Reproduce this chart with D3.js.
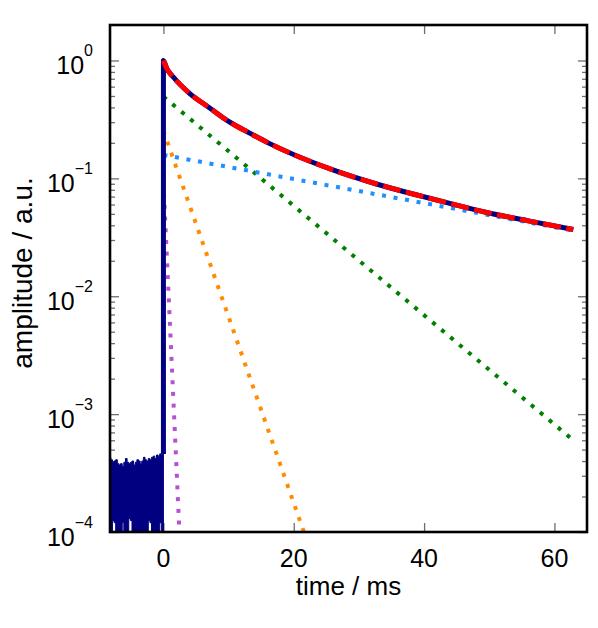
<!DOCTYPE html>
<html>
<head>
<meta charset="utf-8">
<script src="https://cdn.jsdelivr.net/npm/d3@7"></script>
<style>
  body { margin: 0; background: #fff; }
  text { font-family: "Liberation Sans", Arial, Helvetica, sans-serif; fill: #000; }
</style>
</head>
<body>
<div class="chart"></div>
<script>
// measured trace, before the excitation (noise band)
const noiseT  = [-8.2,-7.95,-7.7,-7.45,-7.2,-6.95,-6.7,-6.45,-6.2,-5.95,-5.7,-5.45,-5.2,-4.95,-4.7,-4.45,-4.2,-3.95,-3.7,-3.45,-3.2,-2.95,-2.7,-2.45,-2.2,-1.95,-1.7,-1.45,-1.2,-0.95,-0.7,-0.45,-0.2,0]
const noiseHi = [4.3e-4,4.1e-4,3.9e-4,4.0e-4,4.1e-4,3.8e-4,3.7e-4,3.8e-4,3.6e-4,3.9e-4,4.2e-4,3.9e-4,3.8e-4,3.9e-4,4.0e-4,3.7e-4,3.9e-4,4.1e-4,4.0e-4,3.8e-4,4.0e-4,4.3e-4,4.1e-4,4.0e-4,4.2e-4,4.1e-4,4.3e-4,4.4e-4,4.2e-4,4.5e-4,4.4e-4,4.6e-4,4.5e-4,4.6e-4]
const noiseLo = [5e-5,5e-5,1.25e-4,1.2e-4,5e-5,5e-5,5e-5,5e-5,1.2e-4,5e-5,5e-5,5e-5,1.3e-4,1.25e-4,5e-5,5e-5,5e-5,5e-5,5e-5,5e-5,5e-5,5e-5,5e-5,5e-5,1.25e-4,1.2e-4,5e-5,5e-5,5e-5,5e-5,5e-5,1.2e-4,5e-5,5e-5]

// decay after t = 0 (data and fit coincide)
const decayT = [0, 0.5, 1.0, 1.5, 2.5, 4, 7, 10, 13, 16, 22, 26, 32.7, 38.9, 43.5, 49.6, 56, 62.9]
const decayV = [1.0, 0.859, 0.780, 0.725, 0.630, 0.527, 0.399, 0.304, 0.246, 0.201, 0.143, 0.118, 0.0896, 0.0722, 0.0622, 0.0513, 0.0436, 0.0368]

// fit components (start / end points of each straight line on the log axis)
const compNames  = ['fast', 'short', 'medium', 'long']
const compColors = ['#b452d2', '#ff8c00', '#008000', '#1e90ff']
const compT0 = [0, 0, 0, 0]
const compV0 = [0.094, 0.254, 0.494, 0.158]
const compT1 = [2.6, 22, 62.9, 62.9]
const compV1 = [6.6e-5, 8.5e-5, 6.0e-4, 0.036]

const xTicks = [0, 20, 40, 60]
const yTicks = [1e-4, 1e-3, 1e-2, 1e-1, 1]
const yExps  = ['\u22124', '\u22123', '\u22122', '\u22121', '0']

const W = 598, H = 628
const mL = 110, mR = 587, mT = 25, mB = 532

const x = d3.scaleLinear().domain([-8.2, 65]).range([mL, mR])
const y = d3.scaleLog().domain([1e-4, 2]).range([mB, mT])

const svg = d3.select('.chart').append('svg')
  .attr('width', W)
  .attr('height', H)

svg.append('defs').append('clipPath').attr('id', 'plot')
  .append('rect')
    .attr('x', mL).attr('y', mT)
    .attr('width', mR - mL).attr('height', mB - mT)

// minor log ticks
const minor = []
for (let e = -4; e < 0; e++) {
  for (let m = 2; m <= 9; m++) minor.push(m * Math.pow(10, e))
}

function styleAxis (g) {
  g.select('.domain').remove()
  g.selectAll('.tick line').attr('stroke', '#6e6e6e').attr('stroke-width', 1.3)
  g.selectAll('.tick text').remove()
}

svg.append('g').attr('transform', `translate(${mL},0)`)
  .call(d3.axisLeft(y).tickValues(yTicks).tickSizeInner(-9).tickSizeOuter(0)).call(styleAxis)
svg.append('g').attr('transform', `translate(${mL},0)`)
  .call(d3.axisLeft(y).tickValues(minor).tickSizeInner(-5).tickSizeOuter(0)).call(styleAxis)
svg.append('g').attr('transform', `translate(${mR},0)`)
  .call(d3.axisRight(y).tickValues(yTicks).tickSizeInner(-9).tickSizeOuter(0)).call(styleAxis)
svg.append('g').attr('transform', `translate(${mR},0)`)
  .call(d3.axisRight(y).tickValues(minor).tickSizeInner(-5).tickSizeOuter(0)).call(styleAxis)
svg.append('g').attr('transform', `translate(0,${mB})`)
  .call(d3.axisBottom(x).tickValues(xTicks).tickSizeInner(-9).tickSizeOuter(0)).call(styleAxis)
svg.append('g').attr('transform', `translate(0,${mT})`)
  .call(d3.axisTop(x).tickValues(xTicks).tickSizeInner(-9).tickSizeOuter(0)).call(styleAxis)

const plot = svg.append('g').attr('clip-path', 'url(#plot)')

// components, dotted
compNames.forEach((name, i) => {
  plot.append('path')
    .datum([[compT0[i], compV0[i]], [compT1[i], compV1[i]]])
    .attr('fill', 'none')
    .attr('stroke', compColors[i])
    .attr('stroke-width', 4)
    .attr('stroke-dasharray', '4 7.7')
    .attr('d', d3.line().x(d => x(d[0])).y(d => y(d[1])))
})

// measured data: noise band + decay
const band = noiseT.map((t, i) => ({ t, hi: noiseHi[i], lo: noiseLo[i] }))
plot.append('path')
  .datum(band)
  .attr('fill', '#000080')
  .attr('stroke', '#000080')
  .attr('stroke-width', 1)
  .attr('d', d3.area().curve(d3.curveStep)
    .x(d => x(d.t)).y0(d => y(d.lo)).y1(d => y(d.hi)))

const decay = decayT.map((t, i) => [t, decayV[i]])
const dataLine = [[0, noiseHi[noiseHi.length - 1]]].concat(decay)
plot.append('path')
  .datum(dataLine)
  .attr('fill', 'none')
  .attr('stroke', '#000080')
  .attr('stroke-width', 5)
  .attr('stroke-linejoin', 'round')
  .attr('d', d3.line().curve(d3.curveMonotoneX).x(d => x(d[0])).y(d => y(d[1])))

// total fit, red dashed
plot.append('path')
  .datum(decay)
  .attr('fill', 'none')
  .attr('stroke', '#ff0000')
  .attr('stroke-width', 5)
  .attr('stroke-dasharray', '18 5.5')
  .attr('d', d3.line().curve(d3.curveMonotoneX).x(d => x(d[0])).y(d => y(d[1])))

// frame
svg.append('rect')
  .attr('x', mL).attr('y', mT)
  .attr('width', mR - mL).attr('height', mB - mT)
  .attr('fill', 'none')
  .attr('stroke', '#000')
  .attr('stroke-width', 2.6)

// tick labels
svg.append('g').selectAll('text')
  .data(xTicks)
  .join('text')
    .attr('x', d => x(d))
    .attr('y', 567)
    .attr('text-anchor', 'middle')
    .attr('font-size', 25)
    .text(d => d)

const yl = svg.append('g').selectAll('text')
  .data(yTicks)
  .join('text')
    .attr('x', 93)
    .attr('y', d => y(d) + 14)
    .attr('text-anchor', 'end')
    .attr('font-size', 25)
yl.append('tspan').text('10')
yl.append('tspan')
  .attr('font-size', 16)
  .attr('dy', -18)
  .text((d, i) => yExps[i])

// axis titles
svg.append('text')
  .attr('x', (mL + mR) / 2)
  .attr('y', 595)
  .attr('text-anchor', 'middle')
  .attr('font-size', 26)
  .text('time / ms')

svg.append('text')
  .attr('transform', `translate(32,273) rotate(-90)`)
  .attr('text-anchor', 'middle')
  .attr('font-size', 28)
  .text('amplitude / a.u.')
</script>
</body>
</html>
